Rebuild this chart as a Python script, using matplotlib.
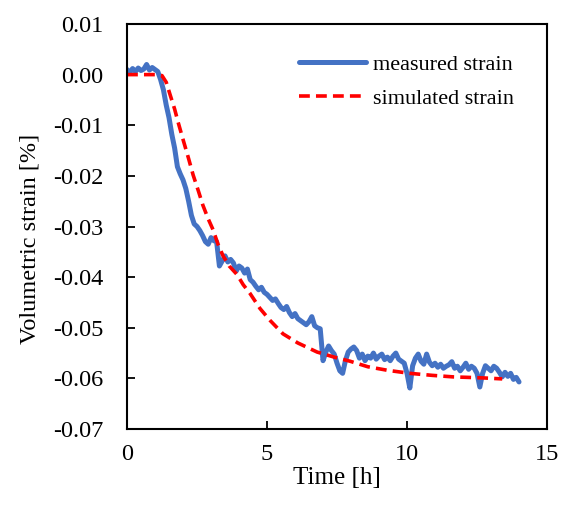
import numpy as np
import matplotlib.pyplot as plt

measured_strain = [
    0.0010, 0.0004, 0.0012, 0.0006, 0.0013, 0.0008, 0.0011, 0.0020, 0.0009, 0.0014,
    0.0010, 0.0006, -0.0010, -0.0030, -0.0060, -0.0085, -0.0118, -0.0145, -0.0182, -0.0196,
    -0.0208, -0.0225, -0.0250, -0.0278, -0.0295, -0.0300, -0.0308, -0.0318, -0.0330, -0.0335,
    -0.0322, -0.0328, -0.0330, -0.0378, -0.0368, -0.0358, -0.0370, -0.0365, -0.0372, -0.0388,
    -0.0378, -0.0382, -0.0392, -0.0384, -0.0405, -0.0410, -0.0418, -0.0425, -0.0420, -0.0430,
    -0.0434, -0.0440, -0.0446, -0.0443, -0.0452, -0.0460, -0.0464, -0.0458, -0.0470, -0.0478,
    -0.0472, -0.0482, -0.0486, -0.0490, -0.0494, -0.0488, -0.0478, -0.0496, -0.0500, -0.0502,
    -0.0565, -0.0548, -0.0536, -0.0545, -0.0552, -0.0570, -0.0585, -0.0590, -0.0565, -0.0548,
    -0.0542, -0.0538, -0.0545, -0.0560, -0.0552, -0.0565, -0.0556, -0.0560, -0.0550, -0.0562,
    -0.0556, -0.0552, -0.0563, -0.0558, -0.0565, -0.0556, -0.0550, -0.0562, -0.0566, -0.0570,
    -0.0590, -0.0619, -0.0575, -0.0560, -0.0552, -0.0566, -0.0572, -0.0552, -0.0568, -0.0575,
    -0.0570, -0.0578, -0.0572, -0.0580, -0.0576, -0.0573, -0.0567, -0.0580, -0.0576, -0.0585,
    -0.0578, -0.0570, -0.0582, -0.0576, -0.0580, -0.0590, -0.0617, -0.0590, -0.0575, -0.0580,
    -0.0585, -0.0576, -0.0580, -0.0588, -0.0597, -0.0588, -0.0596, -0.0590, -0.0602, -0.0598,
    -0.0607,
]
measured_time = np.linspace(0, 14.0, len(measured_strain))

sim_time = [0, 1.0, 1.25, 1.4, 1.54, 1.7, 1.82, 2.0, 2.2, 2.36, 2.55, 2.71, 2.9, 3.07,
            3.25, 3.43, 3.65, 3.93, 4.15, 4.39, 4.75, 5.1, 5.57, 6.1, 6.79, 7.4, 7.96,
            8.6, 9.3, 10.1, 10.9, 11.64, 12.7, 13.4]
sim_strain = [0, 0, -0.0002, -0.0015, -0.0040, -0.0068, -0.0093, -0.0128, -0.0166, -0.0198,
              -0.0230, -0.0258, -0.0285, -0.0306, -0.0335, -0.0358, -0.0378, -0.0395, -0.0415,
              -0.0432, -0.0462, -0.0485, -0.0512, -0.0530, -0.0548, -0.0558, -0.0566, -0.0577,
              -0.0584, -0.0590, -0.0594, -0.0597, -0.0599, -0.0601]

x_ticks = [0, 5, 10, 15]
y_ticks = [0.01, 0.00, -0.01, -0.02, -0.03, -0.04, -0.05, -0.06, -0.07]

plt.rcParams["font.family"] = ["Liberation Serif", "DejaVu Serif"]

fig = plt.figure(figsize=(5.61, 5.07), dpi=100)
ax = fig.add_axes([0.2264, 0.1538, 0.7487, 0.7989])

ax.plot(measured_time, measured_strain, color="#4472C4", lw=3.6,
        solid_joinstyle="round", solid_capstyle="round", label="measured strain")
ax.plot(sim_time, sim_strain, color="#FF0000", lw=2.6,
        linestyle=(0, (3.0, 1.7)), label="simulated strain")

ax.set_xlim(0, 15)
ax.set_ylim(-0.07, 0.01)
ax.set_xticks(x_ticks)
ax.set_yticks(y_ticks)
ax.set_yticklabels([f"{v:.2f}" if v != 0 else "0.00" for v in y_ticks])

for s in ax.spines.values():
    s.set_linewidth(1.5)
    s.set_color("black")

ax.tick_params(axis="both", direction="in", length=6, width=1.3, labelsize=17.5)
ax.tick_params(axis="y", pad=17)
ax.tick_params(axis="x", pad=11)

ax.set_xlabel("Time [h]", fontsize=18, labelpad=1)
ax.set_ylabel("Volumetric strain [%]", fontsize=17.5)
ax.yaxis.set_label_coords(-0.205, 0.47)

ax.legend(loc="upper right", bbox_to_anchor=(0.97, 0.975), frameon=False,
          fontsize=16, handlelength=3.0, handletextpad=0.35, labelspacing=0.6)

fig.savefig("out.png", dpi=100)
